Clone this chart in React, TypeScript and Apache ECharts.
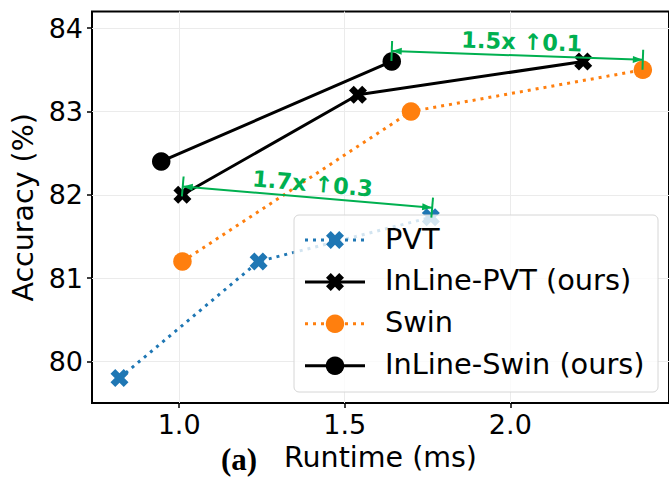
import React, { useEffect, useRef } from "react";
import * as echarts from "echarts";

// ---------------- data ----------------
const seriesNames = ["PVT", "InLine-PVT (ours)", "Swin", "InLine-Swin (ours)"];

const pvtRuntime = [0.82, 1.24, 1.76];
const pvtAcc = [79.8, 81.2, 81.73];

const inlinePvtRuntime = [1.01, 1.54, 2.22];
const inlinePvtAcc = [82.0, 83.2, 83.6];

const swinRuntime = [1.01, 1.7, 2.4];
const swinAcc = [81.2, 83.0, 83.5];

const inlineSwinRuntime = [0.946, 1.642];
const inlineSwinAcc = [82.4, 83.6];

const xTicks = [1.0, 1.5, 2.0];
const yTicks = [80, 81, 82, 83, 84];

const annotationLabels = ["1.5x \u21910.1", "1.7x \u21910.3"];
const annotationFrom = [
  [1.642, 83.726],
  [1.011, 82.1],
];
const annotationTo = [
  [2.4, 83.62],
  [1.764, 81.846],
];

// ---------------- styles ----------------
const GREEN = "#00b050";
const BLUE = "#1f77b4";
const ORANGE = "#ff7f0e";
const BLACK = "#000000";
const FONT = "DejaVu Sans";

// matplotlib-like filled "X" marker outline (unit shape)
function xMarkerPoints(r: number): number[][] {
  const t = 0.36;
  const plus = [
    [t, 1], [t, t], [1, t], [1, -t], [t, -t], [t, -1],
    [-t, -1], [-t, -t], [-1, -t], [-1, t], [-t, t], [-t, 1],
  ];
  const s = Math.SQRT1_2;
  const rot = plus.map(([x, y]) => [(x - y) * s, (x + y) * s]);
  const m = Math.max(...rot.map((p) => Math.abs(p[0])));
  return rot.map(([x, y]) => [(x / m) * r, (y / m) * r]);
}
const X_SYMBOL =
  "path://" +
  xMarkerPoints(10)
    .map(([x, y], i) => `${i ? "L" : "M"}${(x + 10).toFixed(2)},${(y + 10).toFixed(2)}`)
    .join(" ") +
  " Z";

const zip = (xs: number[], ys: number[]) => xs.map((x, i) => [x, ys[i]]);

const seriesDefs = [
  { name: seriesNames[0], x: pvtRuntime, y: pvtAcc, color: BLUE, marker: "x", dotted: true },
  { name: seriesNames[1], x: inlinePvtRuntime, y: inlinePvtAcc, color: BLACK, marker: "x", dotted: false },
  { name: seriesNames[2], x: swinRuntime, y: swinAcc, color: ORANGE, marker: "o", dotted: true },
  { name: seriesNames[3], x: inlineSwinRuntime, y: inlineSwinAcc, color: BLACK, marker: "o", dotted: false },
];

const DOT_DASH = [3, 5];

export default function App() {
  const ref = useRef<HTMLDivElement>(null);

  useEffect(() => {
    if (!ref.current) return;
    const chart = echarts.init(ref.current, null, { renderer: "svg" });

    const lineSeries = seriesDefs.map((d, i) => ({
      type: "line",
      name: d.name,
      data: zip(d.x, d.y),
      symbol: d.marker === "x" ? X_SYMBOL : "circle",
      symbolSize: d.marker === "x" ? 18 : 18.5,
      symbolKeepAspect: true,
      showAllSymbol: true,
      lineStyle: {
        color: d.color,
        width: 3,
        type: d.dotted ? DOT_DASH : "solid",
        cap: "butt",
      },
      itemStyle: { color: d.color, borderWidth: 0, opacity: 1 },
      z: 10 + i,
      silent: true,
    }));

    const annotationSeries = {
      type: "custom",
      silent: true,
      z: 200,
      data: annotationFrom.map((f, i) => [f[0], f[1], annotationTo[i][0], annotationTo[i][1], i]),
      renderItem: (_params: any, api: any) => {
        const p1 = api.coord([api.value(0), api.value(1)]);
        const p2 = api.coord([api.value(2), api.value(3)]);
        const idx = api.value(4);
        const dx = p2[0] - p1[0];
        const dy = p2[1] - p1[1];
        const len = Math.hypot(dx, dy);
        const ux = dx / len;
        const uy = dy / len;
        const nx = uy;
        const ny = -ux;
        const head = 10;
        const hw = 3.5;
        const arrow = (tip: number[], sx: number, sy: number) => [
          [tip[0], tip[1]],
          [tip[0] - sx * head + nx * hw, tip[1] - sy * head + ny * hw],
          [tip[0] - sx * head - nx * hw, tip[1] - sy * head - ny * hw],
        ];
        const bar = (p: number[]) => ({
          type: "line",
          shape: { x1: p[0] - nx * 10, y1: p[1] - ny * 10, x2: p[0] + nx * 10, y2: p[1] + ny * 10 },
          style: { stroke: GREEN, lineWidth: 2 },
        });
        const mx = (p1[0] + p2[0]) / 2 + nx * 14 + ux * 4;
        const my = (p1[1] + p2[1]) / 2 + ny * 14 + uy * 4;
        return {
          type: "group",
          children: [
            {
              type: "line",
              shape: { x1: p1[0], y1: p1[1], x2: p2[0], y2: p2[1] },
              style: { stroke: GREEN, lineWidth: 2 },
            },
            bar(p1),
            bar(p2),
            { type: "polygon", shape: { points: arrow(p1, -ux, -uy) }, style: { fill: GREEN } },
            { type: "polygon", shape: { points: arrow(p2, ux, uy) }, style: { fill: GREEN } },
            {
              type: "text",
              x: mx,
              y: my,
              rotation: -Math.atan2(dy, dx),
              style: {
                text: annotationLabels[idx],
                fill: GREEN,
                font: `bold 22.5px "${FONT}"`,
                align: "center",
                verticalAlign: "middle",
              },
            },
          ],
        };
      },
    };

    // legend drawn as graphic elements
    const legendX = 294;
    const legendY = 215;
    const rowY0 = 240;
    const rowGap = 41.9;
    const legendElems: any[] = [
      {
        type: "rect",
        z: 100,
        shape: { x: legendX, y: legendY, width: 364, height: 177, r: 5 },
        style: { fill: "rgba(255,255,255,0.8)", stroke: "#d6d6d6", lineWidth: 1 },
      },
    ];
    seriesDefs.forEach((d, i) => {
      const cy = rowY0 + i * rowGap;
      const cx = 335;
      legendElems.push({
        type: "line",
        z: 101,
        shape: { x1: 305, y1: cy, x2: 365, y2: cy },
        style: { stroke: d.color, lineWidth: 3, lineDash: d.dotted ? DOT_DASH : null },
      });
      if (d.marker === "x") {
        legendElems.push({
          type: "polygon",
          z: 102,
          shape: { points: xMarkerPoints(9).map(([x, y]) => [cx + x, cy + y]) },
          style: { fill: d.color },
        });
      } else {
        legendElems.push({
          type: "circle",
          z: 102,
          shape: { cx, cy, r: 9.25 },
          style: { fill: d.color },
        });
      }
      legendElems.push({
        type: "text",
        z: 102,
        x: 385,
        y: cy - 1.5,
        style: {
          text: d.name,
          fill: "#000",
          font: `28.8px "${FONT}"`,
          align: "left",
          verticalAlign: "middle",
        },
      });
    });

    const option: any = {
      animation: false,
      backgroundColor: "#ffffff",
      grid: {
        left: 92,
        top: 11.5,
        width: 578,
        height: 395.5,
        show: true,
        borderColor: "#000",
        borderWidth: 2,
        backgroundColor: "transparent",
      },
      xAxis: {
        type: "value",
        min: 0.737,
        max: 2.479,
        axisLine: { show: false },
        axisTick: { show: true, customValues: xTicks, length: 5, lineStyle: { color: "#000", width: 1.5 } },
        axisLabel: {
          customValues: xTicks,
          formatter: (v: number) => v.toFixed(1),
          fontSize: 27,
          fontFamily: FONT,
          color: "#000",
          margin: 8,
        },
        splitLine: { show: true, lineStyle: { color: "#ebebeb", width: 1 } },
        name: "Runtime (ms)",
        nameLocation: "middle",
        nameGap: 36,
        nameTextStyle: { fontSize: 28.5, fontFamily: FONT, color: "#000" },
      },
      yAxis: {
        type: "value",
        min: 79.5,
        max: 84.2,
        axisLine: { show: false },
        axisTick: { show: true, customValues: yTicks, length: 5, lineStyle: { color: "#000", width: 1.5 } },
        axisLabel: {
          customValues: yTicks,
          formatter: (v: number) => String(v),
          fontSize: 27,
          fontFamily: FONT,
          color: "#000",
          margin: 9,
        },
        splitLine: { show: true, lineStyle: { color: "#ebebeb", width: 1 } },
        name: "Accuracy (%)",
        nameLocation: "middle",
        nameGap: 50,
        nameRotate: 90,
        nameTextStyle: { fontSize: 28.5, fontFamily: FONT, color: "#000" },
      },
      series: [...lineSeries, annotationSeries],
      graphic: [
        ...legendElems,
        {
          type: "text",
          z: 100,
          x: 221,
          y: 459,
          style: {
            text: "(a)",
            fill: "#000",
            font: `bold 31px "Liberation Serif"`,
            align: "left",
            verticalAlign: "middle",
          },
        },
      ],
    };

    chart.setOption(option);
    return () => chart.dispose();
  }, []);

  return (
    <div
      ref={ref}
      style={{ position: "fixed", left: 0, top: 0, width: 669, height: 477, background: "#fff" }}
    />
  );
}
